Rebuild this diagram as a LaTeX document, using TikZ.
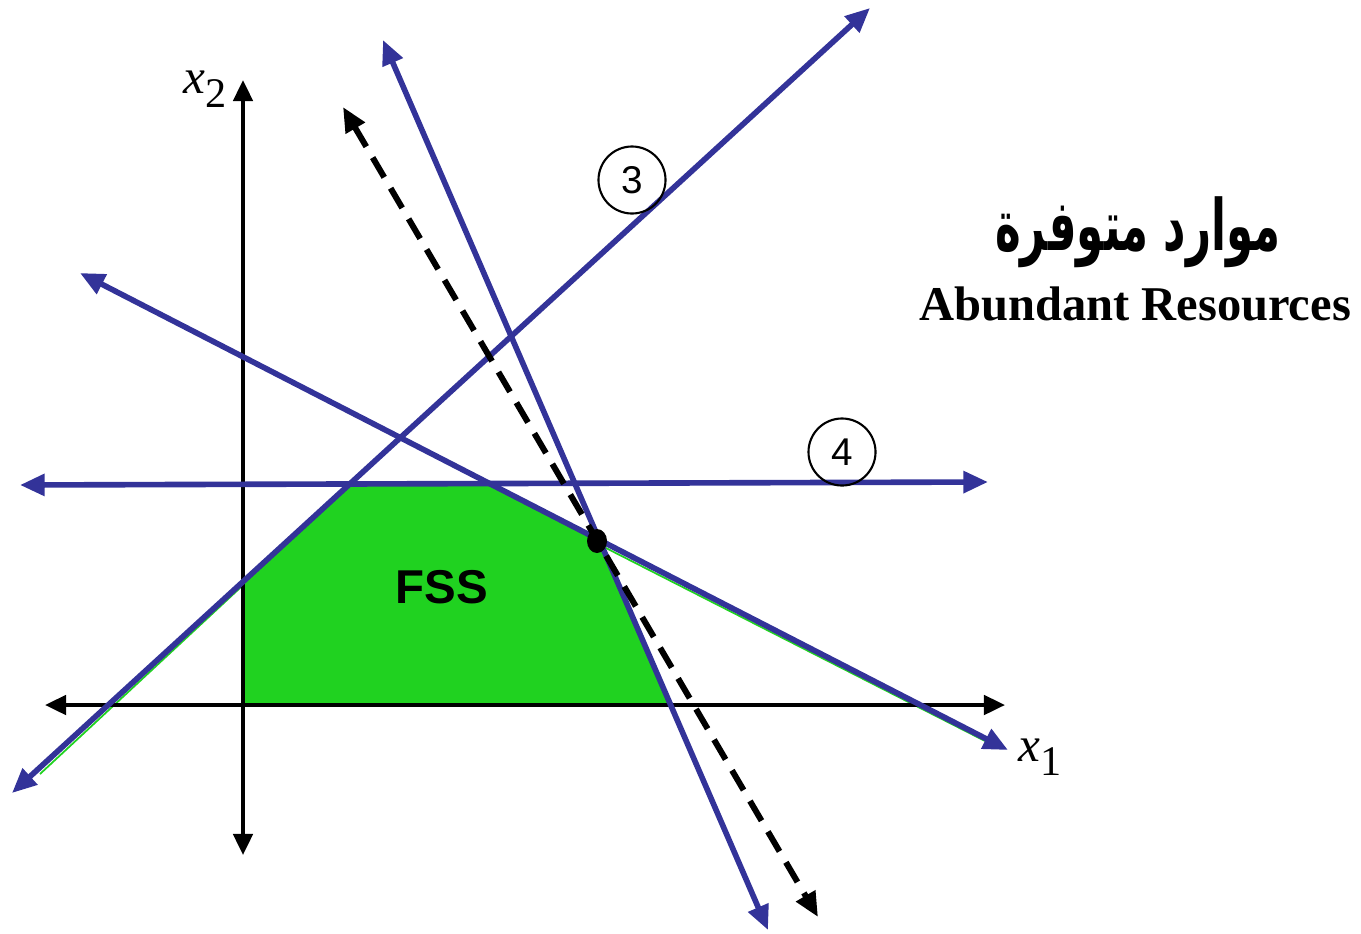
\documentclass[tikz,border=0pt]{standalone}
\usepackage{fontspec}
\setmainfont{Liberation Serif}
\newfontfamily\sansfont{Liberation Sans}
\newfontfamily\arabicfont[Script=Arabic]{DejaVu Sans}
\TeXXeTstate=1
\usepackage{xcolor}
\usetikzlibrary{arrows.meta, positioning}
\definecolor{lineblue}{RGB}{51,51,153}
\definecolor{fssgreen}{RGB}{32,210,32}

\begin{document}
\begin{tikzpicture}[
    x=0.01cm, y=-0.01cm,
    axis/.style={{Triangle[length=6pt,width=5.5pt]}-{Triangle[length=6pt,width=5.5pt]}, line width=1.1pt, black},
    constraint/.style={{Triangle[length=7pt,width=6pt]}-{Triangle[length=7pt,width=6pt]}, line width=1.6pt, lineblue},
    objective/.style={{Triangle[length=7pt,width=6pt]}-{Triangle[length=7pt,width=6pt]}, line width=1.7pt, black, dash pattern=on 6.5pt off 3.6pt},
    numlabel/.style={circle, draw, line width=0.6pt, minimum size=0.67cm, inner sep=0pt, font=\sansfont\fontsize{11}{13}\selectfont},
    axislabel/.style={font=\fontsize{14}{16}\selectfont}
]
\useasboundingbox (0,0) rectangle (1361,933);

% feasible region
\fill[fssgreen] (243,705) -- (243,580) -- (350,485) -- (490,484) -- (598,540) -- (670,705) -- cycle;
\draw[fssgreen, line width=0.5pt] (398,441) -- (40,774);
\draw[fssgreen, line width=0.5pt] (600,545) -- (985,741);
\node[font=\sansfont\bfseries\fontsize{13.5}{16}\selectfont] (fss) at (442,587) {FSS};

% axes
\coordinate (x1L) at (45,705);
\coordinate (x1R) at (1005,705);
\coordinate (x2B) at (243,855);
\coordinate (x2T) at (243,80);
\draw[axis] (x1L) -- (x1R);
\draw[axis] (x2B) -- (x2T);
\node[axislabel] (x1lab) at (1040,757) {\textit{x}\raisebox{-0.6ex}{\fontsize{12}{14}\selectfont 1}};
\node[axislabel] (x2lab) at (205,89) {\textit{x}\raisebox{-0.6ex}{\fontsize{12}{14}\selectfont 2}};

% constraints
\coordinate (aT) at (383,40);
\coordinate (aB) at (768,930);
\coordinate (bL) at (12,793);
\coordinate (bR) at (870,8);
\coordinate (cL) at (80,273);
\coordinate (cR) at (1008,750);
\coordinate (dL) at (20,485);
\coordinate (dR) at (988,482);
\draw[constraint] (aT) -- (aB);
\draw[constraint] (bL) -- (bR);
\draw[constraint] (cL) -- (cR);
\draw[constraint] (dL) -- (dR);

% objective function
\coordinate (zT) at (343,107);
\coordinate (zB) at (818,917);
\draw[objective] (zT) -- (zB);
\fill[black] (597,541) ellipse (10 and 12);
\coordinate (opt) at (597,541);

\node[numlabel] (c3) at (632,180) {3};
\node[numlabel] (c4) at (842,452) {4};

\node[font=\arabicfont\bfseries\fontsize{15.5}{19}\selectfont] (ar) at (1138,232) {\scalebox{0.8}[1.3]{\beginR موارد متوفرة\endR}};
\node[font=\bfseries\fontsize{13.8}{17}\selectfont] (en) at (1135,304) {Abundant Resources};
\end{tikzpicture}
\end{document}
